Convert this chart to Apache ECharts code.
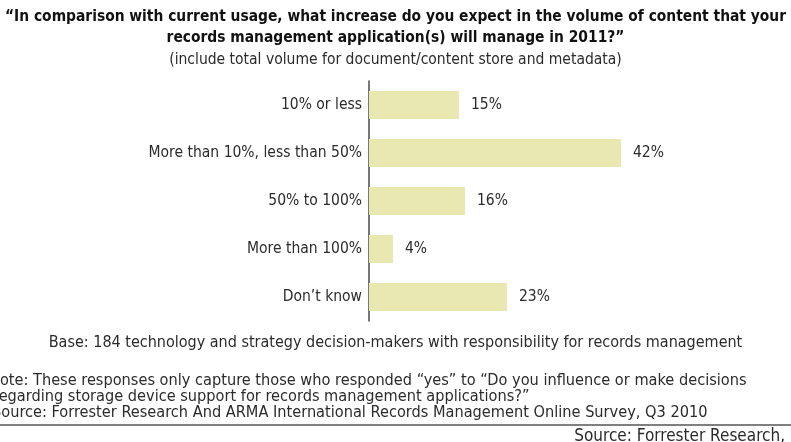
<!DOCTYPE html>
<html>
<head>
<meta charset="utf-8">
<script src="https://cdn.jsdelivr.net/npm/echarts@6/dist/echarts.min.js"></script>
<style>
  html, body { margin: 0; padding: 0; background: #ffffff; }
  #chart { width: 791px; height: 442px; }
</style>
</head>
<body>
<div id="chart"></div>
<script>
// Survey answers and share of respondents (%)
const categories = [
  '10% or less',
  'More than 10%, less than 50%',
  '50% to 100%',
  'More than 100%',
  "Don\u2019t know"
];
const values = [15, 42, 16, 4, 23];

const titleLines = [
  '\u201cIn comparison with current usage, what increase do you expect in the volume of content that your',
  'records management application(s) will manage in 2011?\u201d'
];
const subtitle = '(include total volume for document/content store and metadata)';
const baseNote = 'Base: 184 technology and strategy decision-makers with responsibility for records management';
const noteLines = [
  'Note: These responses only capture those who responded \u201cyes\u201d to \u201cDo you influence or make decisions',
  'regarding storage device support for records management applications?\u201d',
  'Source: Forrester Research And ARMA International Records Management Online Survey, Q3 2010'
];
const sourceText = 'Source: Forrester Research,';

const FONT = '"Liberation Sans Narrow", "DejaVu Sans Condensed", "Open Sans", sans-serif';
const INK = '#2b2b2b';

const chart = echarts.init(document.getElementById('chart'), null, { renderer: 'canvas' });

chart.setOption({
  backgroundColor: '#ffffff',
  animation: false,
  grid: { left: 369, top: 81, width: 300, height: 240, containLabel: false },
  xAxis: {
    type: 'value', min: 0, max: 50,
    show: false
  },
  yAxis: {
    type: 'category',
    data: categories,
    inverse: true,
    axisLine: { show: true, lineStyle: { color: '#4a4a4a', width: 1.5 } },
    axisTick: { show: false },
    axisLabel: { color: INK, fontFamily: FONT, fontSize: 15.5, margin: 7 }
  },
  series: [{
    type: 'bar',
    data: values,
    barWidth: 28,
    itemStyle: { color: '#e9e8b0' },
    label: {
      show: true, position: 'right', distance: 12,
      formatter: '{c}%',
      color: INK, fontFamily: FONT, fontSize: 15.5
    }
  }],
  graphic: [
    { type: 'text', left: 'center', top: 9, style: { text: titleLines[0], fill: '#111', font: 'bold 15.4px ' + FONT } },
    { type: 'text', left: 'center', top: 30, style: { text: titleLines[1], fill: '#111', font: 'bold 15.4px ' + FONT } },
    { type: 'text', left: 'center', top: 52, style: { text: subtitle, fill: INK, font: '15.5px ' + FONT } },
    { type: 'text', left: 'center', top: 335, style: { text: baseNote, fill: INK, font: '16px ' + FONT } },
    { type: 'text', x: -11, y: 373, style: { text: noteLines[0], fill: INK, font: '16.2px ' + FONT } },
    { type: 'text', x: -7, y: 389, style: { text: noteLines[1], fill: INK, font: '16.2px ' + FONT } },
    { type: 'text', x: -8, y: 405, style: { text: noteLines[2], fill: INK, font: '16.2px ' + FONT } },
    { type: 'line', shape: { x1: 0, y1: 425, x2: 791, y2: 425 }, style: { stroke: '#555', lineWidth: 1.5 } },
    { type: 'text', right: 6, top: 428, style: { text: sourceText, fill: INK, font: '17px ' + FONT } }
  ]
});
</script>
</body>
</html>
